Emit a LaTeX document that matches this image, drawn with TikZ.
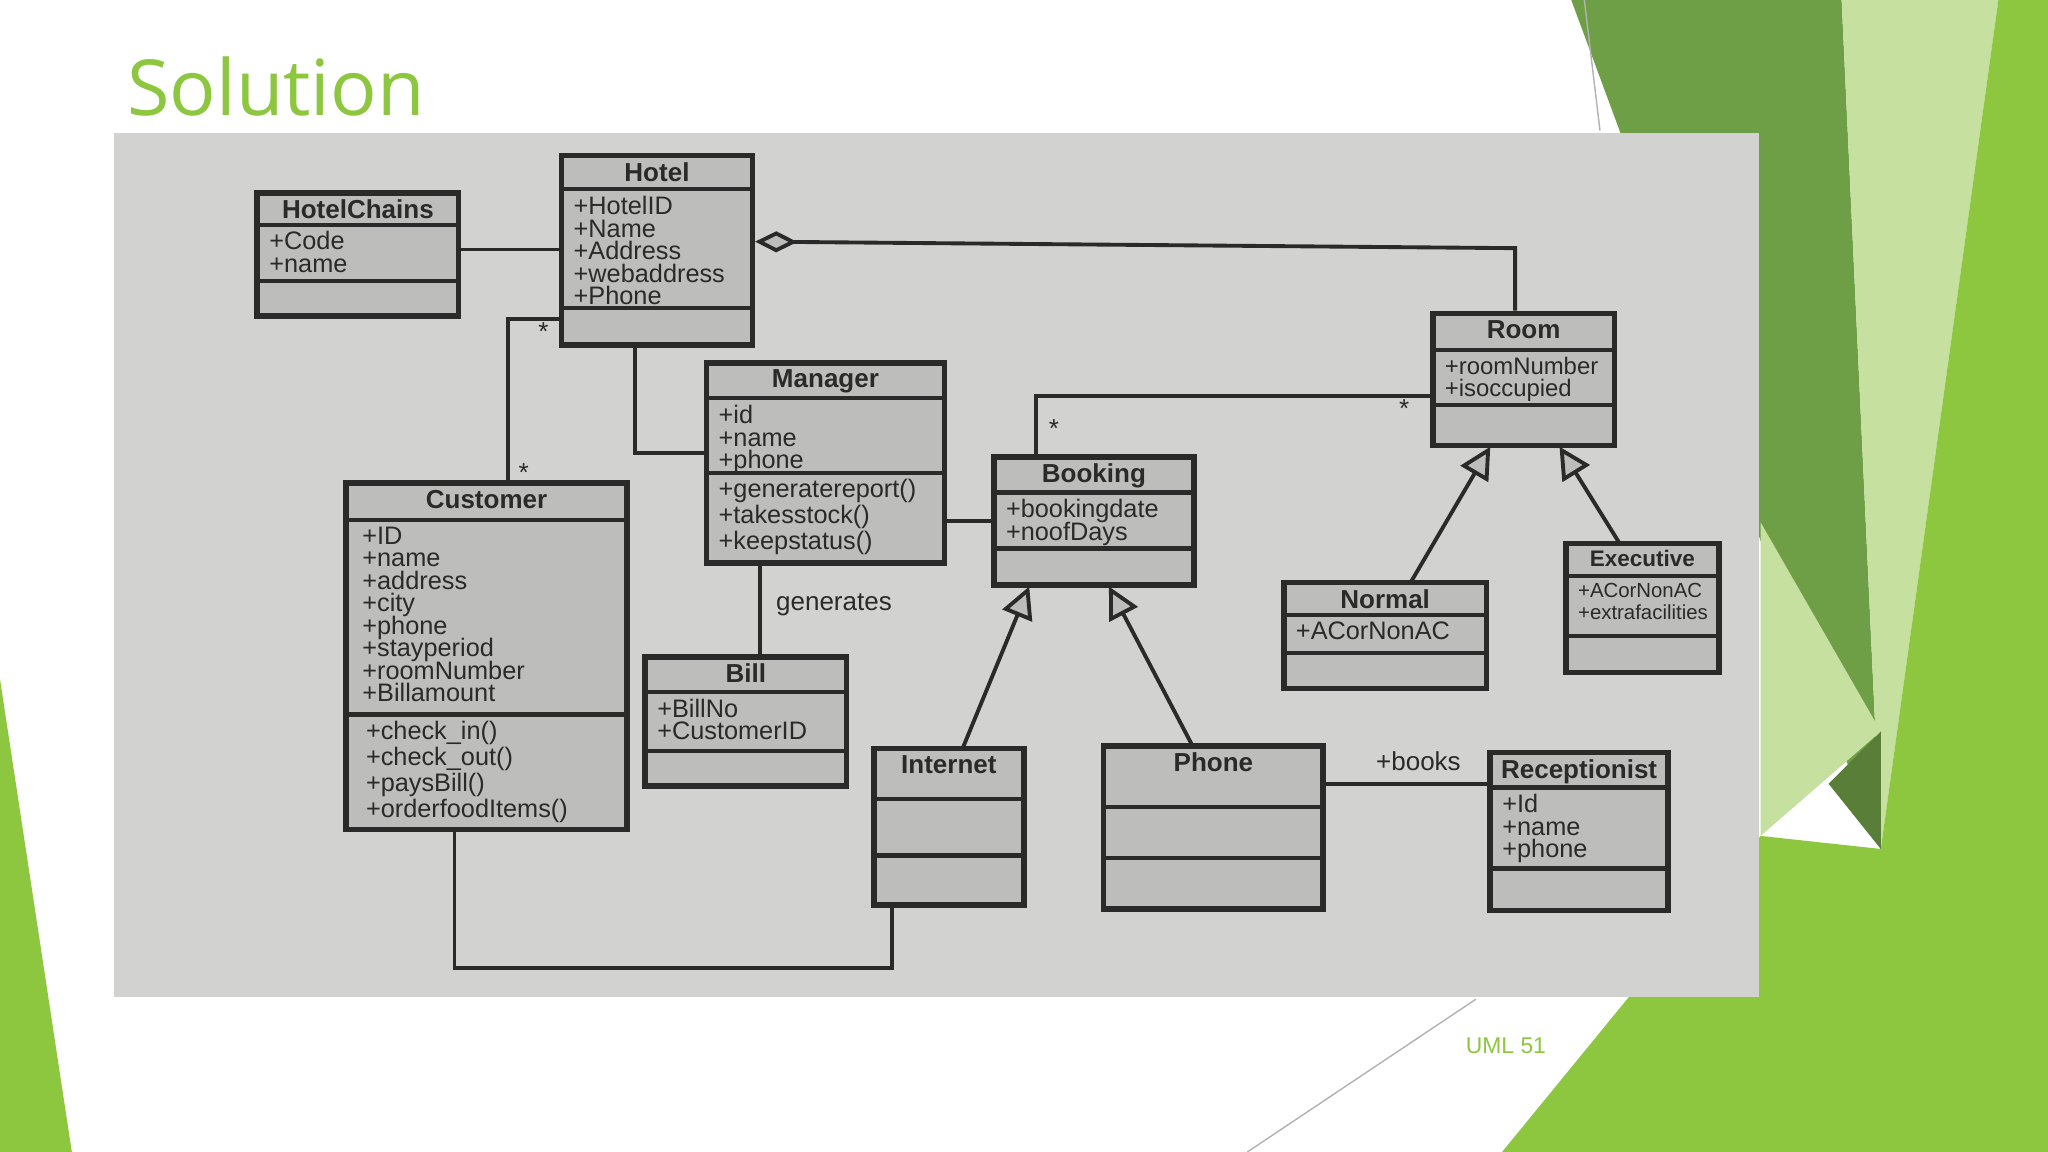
\documentclass[tikz,border=0pt]{standalone}
\usepackage{fontspec}
\setmainfont{Liberation Sans}
\newfontfamily\titlefont{Open Sans}
\usetikzlibrary{arrows.meta,fit,calc}
\definecolor{gA}{HTML}{8DC63F}
\definecolor{gDark}{HTML}{6E9E45}
\definecolor{gLight}{HTML}{C6E0A0}
\definecolor{photo}{HTML}{D2D2D0}
\definecolor{boxfill}{HTML}{BDBDBB}
\definecolor{ink}{HTML}{2A2A2A}
\newcommand{\tightls}{\lineskiplimit-20pt\lineskip0pt\relax}
\tikzset{
  classbox/.style={draw=ink, fill=boxfill, line width=1.6pt, inner sep=0pt},
  sep/.style={draw=ink, line width=1.2pt},
  conn/.style={draw=ink, line width=1.1pt},
  gen/.style={conn, -{Triangle[open, length=9pt, width=9pt, fill=boxfill]}},
  agg/.style={conn, {Diamond[open, length=12pt, width=6pt, fill=boxfill]}-},
  ctitle/.style={anchor=north, font=\fontsize{7.4}{8}\selectfont\bfseries, text=ink, inner sep=1pt},
  cattr/.style={anchor=north west, align=left, font=\fontsize{7.2}{6.4}\selectfont\tightls, text=ink, inner sep=1pt},
  cmeth/.style={cattr, font=\fontsize{7.2}{7.4}\selectfont\tightls},
  lbl/.style={font=\fontsize{7.4}{8}\selectfont, text=ink, inner sep=1pt}
}
\newcommand{\umlcls}[9]{%
  \node[classbox, fit={(#2,#3) (#4,#5)}] (#1) {};
  \draw[sep] (#2,#6) -- (#4,#6);
  \draw[sep] (#2,#7) -- (#4,#7);
  \node[ctitle] (#1-t) at ({(#2+#4)/2},#3+2) {#8};
  \node[cattr] (#1-a) at (#2+6,#6+2) {#9};
}
\begin{document}
\begin{tikzpicture}[x=0.0130612cm, y=-0.0130612cm]
\useasboundingbox (0,0) rectangle (1568,882);
\fill[white] (0,0) rectangle (1568,882);
% decorative greens
\fill[gDark] (1203,0) -- (1410,0) -- (1440,650) -- (1350,420) -- (1240,100) -- cycle;
\fill[gLight] (1410,0) -- (1530,0) -- (1440,650) -- cycle;
\fill[gLight] (1348,400) -- (1440,560) -- (1348,640) -- cycle;
\fill[gA] (1530,0) -- (1568,0) -- (1568,882) -- (1150,882) -- (1348,640) -- (1440,650) -- cycle;
\fill[gDark!80!black] (1400,600) -- (1440,560) -- (1440,650) -- cycle;
\fill[gA] (0,520) -- (55,882) -- (0,882) -- cycle;
\draw[gray!60, line width=0.4pt] (1213,0) -- (1225,100);
\draw[gray!60, line width=0.4pt] (955,882) -- (1130,765);
% title and footer
\node[anchor=west, text=gA, font=\titlefont\fontsize{22}{26}\selectfont, inner sep=0pt] (title) at (97,66) {Solution};
\node[text=gA, font=\fontsize{6.5}{7}\selectfont, inner sep=0pt] (footer) at (1153,801) {UML 51};
% photo background
\fill[photo] (87,102) rectangle (1347,763);
% classes
\umlcls{hotelchains}{197}{148}{351}{242}{172}{215}{HotelChains}{+Code\\+name}
\umlcls{hotel}{430}{119}{576}{264}{145}{236}{Hotel}{+HotelID\\+Name\\+Address\\+webaddress\\+Phone}
\umlcls{manager}{541}{278}{723}{431}{305}{362}{Manager}{+id\\+name\\+phone}
\node[cmeth] (manager-m) at (547,364) {+generatereport()\\+takesstock()\\+keepstatus()};
\umlcls{customer}{265}{370}{480}{635}{398}{547}{Customer}{\,+ID\\\,+name\\\,+address\\\,+city\\\,+phone\\\,+stayperiod\\\,+roomNumber\\\,+Billamount}
\node[cmeth] (customer-m) at (277,549) {+check\_in()\\+check\_out()\\+paysBill()\\+orderfoodItems()};
\umlcls{bill}{494}{503}{648}{602}{530}{575}{Bill}{+BillNo\\+CustomerID}
\umlcls{booking}{761}{350}{914}{448}{377}{420}{Booking}{+bookingdate\\+noofDays}
\umlcls{room}{1097}{240}{1236}{341}{268}{310}{Room}{\fontsize{6.8}{6.4}\selectfont +roomNumber\\\fontsize{6.8}{6.4}\selectfont +isoccupied}
\umlcls{normal}{983}{446}{1138}{527}{471}{500}{Normal}{+ACorNonAC}
\umlcls{executive}{1199}{416}{1316}{515}{441}{487}{\fontsize{6.4}{7}\selectfont Executive}{\fontsize{5.8}{5.4}\selectfont +ACorNonAC\\\fontsize{5.8}{5.4}\selectfont +extrafacilities}
\umlcls{internet}{669}{573}{784}{693}{612}{655}{Internet}{}
\umlcls{phone}{845}{571}{1013}{696}{618}{657}{Phone}{}
\umlcls{receptionist}{1141}{576}{1277}{697}{603}{665}{Receptionist}{+Id\\+name\\+phone}
% connectors
\draw[conn] (hotelchains.east |- 0,191) -- (hotel.west |- 0,191);
\coordinate (hr1) at (1160,190);
\draw[agg] (hotel.east |- 0,185) -- (hr1) -- (room.north -| hr1);
\coordinate (hc1) at (389,244);
\draw[conn] (hotel.west |- hc1) -- (hc1) -- (customer.north -| hc1);
\node[lbl] (s1) at (416,254) {*};
\node[lbl] (s2) at (401,362) {*};
\coordinate (hm1) at (486,347);
\draw[conn] (hotel.south -| hm1) -- (hm1) -- (manager.west |- hm1);
\draw[conn] (manager.east |- 0,399) -- (booking.west |- 0,399);
\coordinate (mb1) at (582,450);
\draw[conn] (manager.south -| mb1) -- (bill.north -| mb1);
\node[lbl, anchor=west] (gen) at (591,463) {generates};
\coordinate (br1) at (793,303);
\draw[conn] (booking.north -| br1) -- (br1) -- (room.west |- br1);
\node[lbl] (s3) at (807,328) {*};
\node[lbl] (s4) at (1075,313) {*};
\coordinate (ib) at (788,449);
\coordinate (pb) at (849,449);
\coordinate (ib0) at (737,573);
\coordinate (pb0) at (913,571);
\draw[gen] (ib0) -- (ib);
\draw[gen] (pb0) -- (pb);
\coordinate (nr) at (1141,342);
\coordinate (er) at (1194,342);
\coordinate (nr0) at (1080,446);
\coordinate (er0) at (1240,416);
\draw[gen] (nr0) -- (nr);
\draw[gen] (er0) -- (er);
\draw[conn] (phone.east |- 0,600) -- (receptionist.west |- 0,600);
\node[lbl] (books) at (1086,583) {+books};
\coordinate (ci1) at (348,741);
\coordinate (ci2) at (683,741);
\draw[conn] (customer.south -| ci1) -- (ci1) -- (ci2) -- (internet.south -| ci2);
\end{tikzpicture}
\end{document}
